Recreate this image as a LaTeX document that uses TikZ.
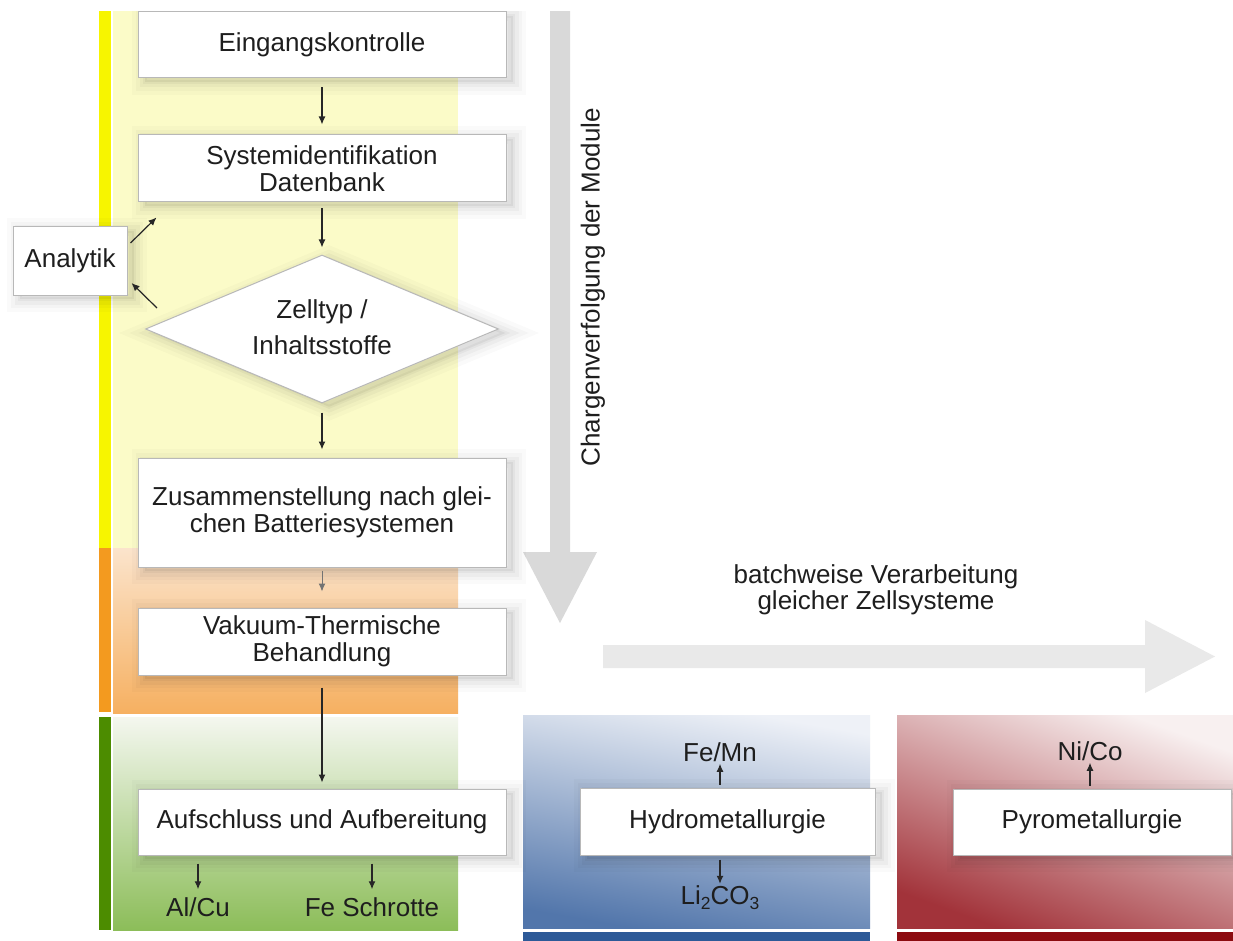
\documentclass[tikz,border=0pt]{standalone}
\usepackage{fontspec}
\setmainfont{Liberation Sans}
\usetikzlibrary{shapes.geometric,arrows.meta,shadows,calc}

\definecolor{txt}{HTML}{1E1E1E}
\definecolor{barY}{HTML}{F7F500}
\definecolor{barO}{HTML}{F39A1F}
\definecolor{barG}{HTML}{4C8C00}
\definecolor{paleY}{HTML}{FBFBC8}
\definecolor{orTop}{HTML}{FBE4CC}
\definecolor{orBot}{HTML}{F6B061}
\definecolor{grTop}{HTML}{F4F7EF}
\definecolor{grBot}{HTML}{8CBD59}
\definecolor{blTop}{HTML}{EEF1F7}
\definecolor{blBot}{HTML}{5276AB}
\definecolor{blStrip}{HTML}{2D5A98}
\definecolor{rdTop}{HTML}{F8F0F0}
\definecolor{rdBot}{HTML}{A2333A}
\definecolor{rdStrip}{HTML}{8C0B10}
\definecolor{arrV}{HTML}{D9D9D9}
\definecolor{arrH}{HTML}{E9E9E9}

\newcommand\fsz{\fontsize{26}{26.5}\selectfont}
\newcommand\subsz{\fontsize{17.5}{17.5}\selectfont}

\begin{document}
\begin{tikzpicture}[x=1pt,y=-1pt,
  % soft shadow built from stacked translucent outlines
  softshadow/.style={
    general shadow={draw=black, line width=26pt, draw opacity=0.02,
      fill=black, fill opacity=0.05, shadow xshift=7pt, shadow yshift=-4pt},
    general shadow={draw=black, line width=18pt, draw opacity=0.025,
      fill opacity=0, shadow xshift=7pt, shadow yshift=-4pt},
    general shadow={draw=black, line width=11pt, draw opacity=0.03,
      fill opacity=0, shadow xshift=7pt, shadow yshift=-4pt},
    general shadow={draw=black, line width=4pt, draw opacity=0.035,
      fill opacity=0, shadow xshift=7pt, shadow yshift=-4pt}},
  box/.style={draw=black!28, line width=1pt, fill=white, align=center,
    font=\fsz, text=txt, inner sep=0pt, softshadow},
  mainbox/.style={box, minimum width=368pt},
  lbl/.style={font=\fsz, text=txt, inner sep=0pt, align=center},
  flow/.style={-{Latex[length=8pt,width=7pt]}, line width=1.2pt, draw=black!85}]

\useasboundingbox (0,0) rectangle (1233,941);
\fill[white] (0,0) rectangle (1233,941);

\begin{scope}
\clip (0,12) rectangle (1233,941);

% phase bars on the left
\fill[barY] (99,0) rectangle (111,548);
\fill[barO] (99,548) rectangle (111,712);
\fill[barG] (99,717) rectangle (111,930);

% phase backgrounds
\fill[paleY] (113,0) rectangle (458,548);
\shade[top color=orTop, bottom color=orBot] (113,548) rectangle (458,713);
\shade[top color=grTop, bottom color=grBot] (113,717) rectangle (458,930);

% downstream panels
\shade[top color=blTop, bottom color=blBot, shading angle=-10] (523,715) rectangle (870,928);
\fill[blStrip] (523,932) rectangle (870,941);
\shade[top color=rdTop, bottom color=rdBot, shading angle=-20] (897,715) rectangle (1233,928);
\fill[rdStrip] (897,932) rectangle (1233,941);

% large process arrows
\fill[arrV] (550,0) -- (570,0) -- (570,552) -- (597,552) -- (560,623)
  -- (523,552) -- (550,552) -- cycle;
\fill[arrH] (603,645) -- (1145,645) -- (1145,620) -- (1215,656.5)
  -- (1145,693) -- (1145,668) -- (603,668) -- cycle;

\node[lbl, rotate=90] (chg) at (593,287) {Chargenverfolgung der Module};
\node[lbl] (batch) at (876,590) {batchweise Verarbeitung\\gleicher Zellsysteme};

% process chain
\node[mainbox, minimum height=66pt] (e1) at (322,45) {Eingangskontrolle};
\node[mainbox, minimum height=67pt] (e2) at (322,168.5) {Systemidentifikation\\Datenbank};
\node[box, shape=diamond, minimum width=353pt, minimum height=148pt] (dia) at (322,329) {};
\node[lbl] (diatext) at (322,327) {Zelltyp /\\[10pt]Inhaltsstoffe};
\node[mainbox, minimum height=109pt] (zus) at (322,512.5)
  {Zusammenstellung nach glei-\\chen Batteriesystemen};
\node[mainbox, minimum height=67pt] (vak) at (322,641.5) {Vakuum-Thermische\\Behandlung};
\node[mainbox, minimum height=66pt] (auf) at (322,822) {Aufschluss und Aufbereitung};
\node[box, minimum width=114pt, minimum height=68pt] (ana) at (70,261) {Analytik};

\node[lbl] (alcu) at (198,907) {Al/Cu};
\node[lbl] (fesch) at (372,907) {Fe Schrotte};

\node[box, minimum width=295pt, minimum height=67pt] (hyd) at (727.5,821.5) {Hydrometallurgie};
\node[lbl] (femn) at (720,752) {Fe/Mn};
\node[lbl] (li) at (720,898) {Li\raisebox{-5pt}{\subsz 2}CO\raisebox{-5pt}{\subsz 3}};

\node[box, minimum width=278pt, minimum height=66pt] (pyr) at (1092,822) {Pyrometallurgie};
\node[lbl] (nico) at (1090,751) {Ni/Co};

% connectors
\draw[flow, shorten <=9pt, shorten >=10pt] (e1.south) -- (e2.north);
\draw[flow, shorten <=6pt, shorten >=7pt] (e2.south) -- (dia.north);
\draw[flow, shorten <=9pt, shorten >=8pt] (dia.south) -- (zus.north);
\draw[flow, draw=black!55, line width=1pt, shorten <=3pt, shorten >=16pt] (zus.south) -- (vak.north);
\draw[flow, shorten <=12pt, shorten >=6pt] (vak.south) -- (auf.north);
\draw[flow, shorten <=8pt, shorten >=8pt] (alcu.north |- auf.south) -- (alcu.north);
\draw[flow, shorten <=8pt, shorten >=8pt] (fesch.north |- auf.south) -- (fesch.north);
\draw[flow] ($(ana.east)+(3,-18)$) -- ($(e2.south west)+(19,15)$);
\draw[flow] ($(dia.west)+(12,-21)$) -- ($(ana.east)+(4,22)$);
\draw[flow, shorten <=3pt, shorten >=2pt] (hyd.north -| femn.south) -- (femn.south);
\draw[flow, shorten <=4pt, shorten >=2pt] (hyd.south -| li.north) -- (li.north);
\draw[flow, shorten <=3pt, shorten >=2pt] (pyr.north -| nico.south) -- (nico.south);
\end{scope}
\end{tikzpicture}
\end{document}
